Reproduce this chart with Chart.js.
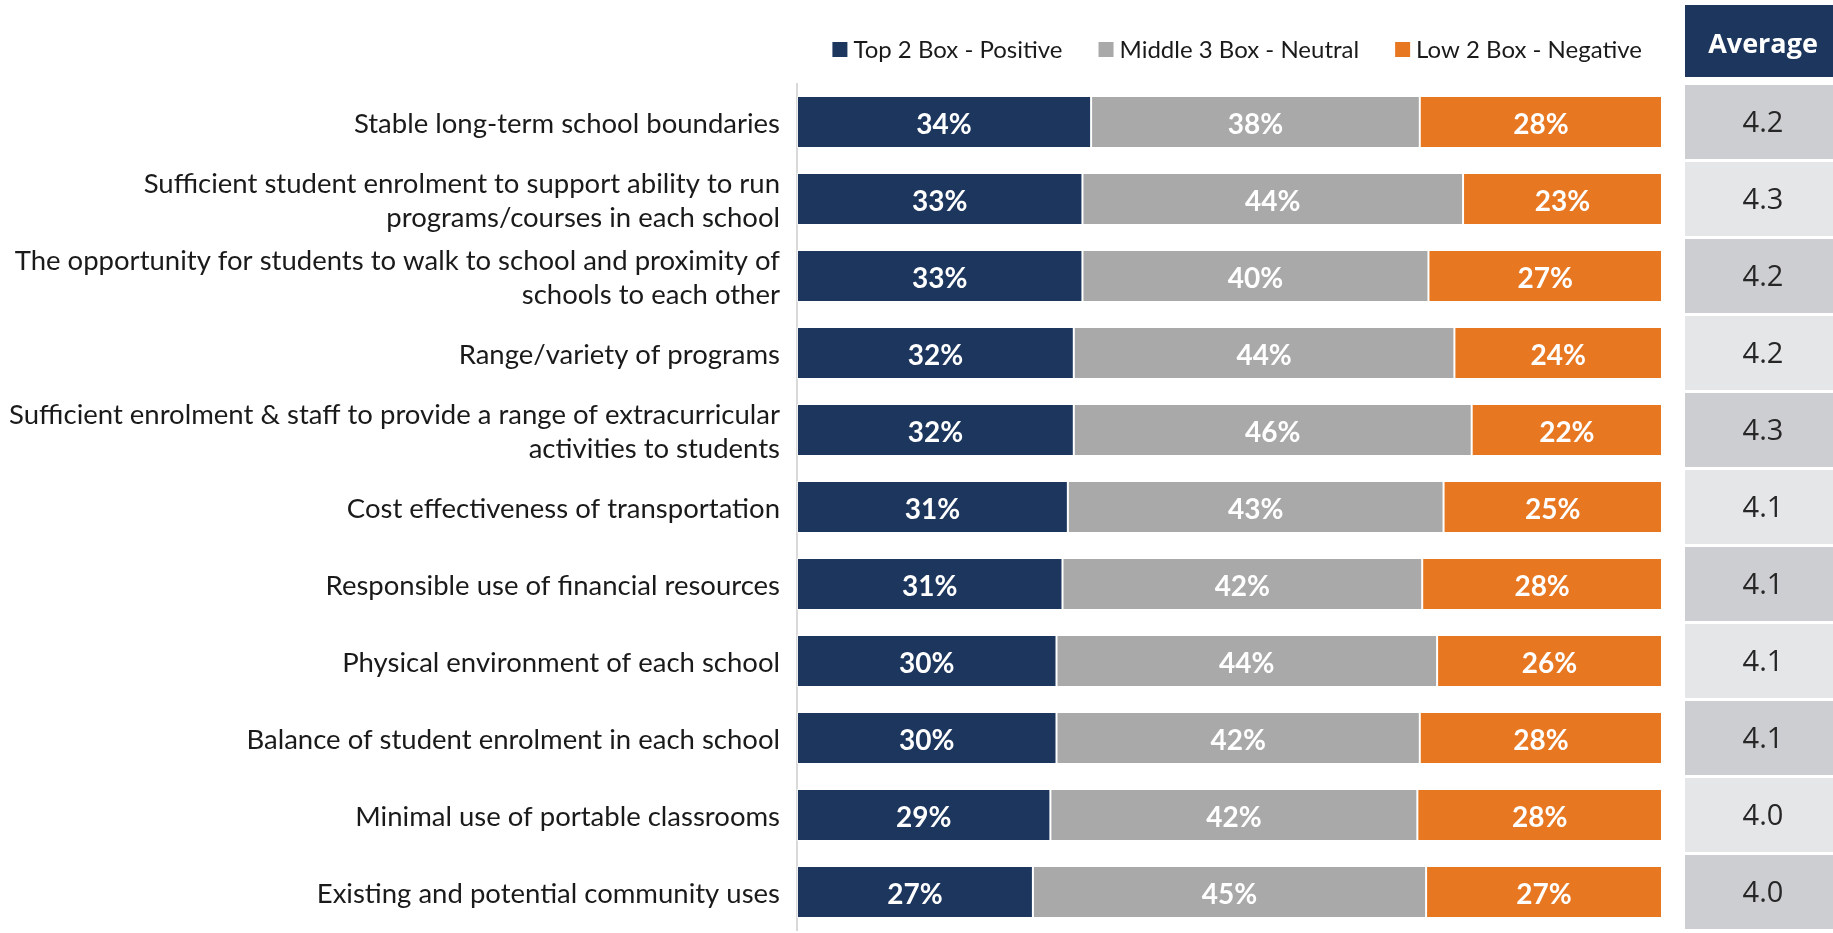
<!DOCTYPE html>
<html>
<head>
<meta charset="utf-8">
<title>School priorities</title>
<script src="https://cdn.jsdelivr.net/npm/chart.js@4"></script>
<style>
  html, body { margin: 0; padding: 0; background: #fff; }
  #wrap { position: relative; width: 1833px; height: 933px; }
</style>
</head>
<body>
<div id="wrap"><canvas id="scoreChart"></canvas></div>
<script>
// values (percent of respondents)
const categories = [
    'Stable long-term school boundaries',
    ['Sufficient student enrolment to support ability to run', 'programs/courses in each school'],
    ['The opportunity for students to walk to school and proximity of', 'schools to each other'],
    'Range/variety of programs',
    ['Sufficient enrolment & staff to provide a range of extracurricular', 'activities to students'],
    'Cost effectiveness of transportation',
    'Responsible use of financial resources',
    'Physical environment of each school',
    'Balance of student enrolment in each school',
    'Minimal use of portable classrooms',
    'Existing and potential community uses'
];
const seriesNames = ['Top 2 Box - Positive', 'Middle 3 Box - Neutral', 'Low 2 Box - Negative'];
const positive = [34, 33, 33, 32, 32, 31, 31, 30, 30, 29, 27];
const neutral  = [38, 44, 40, 44, 46, 43, 42, 44, 42, 42, 45];
const negative = [28, 23, 27, 24, 22, 25, 28, 26, 28, 28, 27];
const averages = [4.2, 4.3, 4.2, 4.2, 4.3, 4.1, 4.1, 4.1, 4.1, 4.0, 4.0];

const colors = ['#1c365e', '#a9a9a9', '#e87722'];
const labelFont = "Lato, 'Open Sans', sans-serif";
const textColor = '#1a1a1a';

const raw = [positive, neutral, negative];
// rounded shares don't always add up to 100, bars are drawn as shares of the row
const rowTotals = categories.map((c, i) => positive[i] + neutral[i] + negative[i]);

// white percentage inside each segment
const barLabels = {
    id: 'barLabels',
    afterDatasetsDraw(chart) {
        const ctx = chart.ctx;
        ctx.save();
        ctx.font = 'bold 28px ' + labelFont;
        ctx.fillStyle = '#ffffff';
        ctx.textAlign = 'center';
        ctx.textBaseline = 'middle';
        chart.data.datasets.forEach((ds, d) => {
            chart.getDatasetMeta(d).data.forEach((bar, i) => {
                ctx.fillText(raw[d][i] + '%', (bar.x + bar.base) / 2, bar.y + 3);
            });
        });
        ctx.restore();
    }
};

// legend above the bars, right aligned
const topLegend = {
    id: 'topLegend',
    afterDraw(chart) {
        const ctx = chart.ctx;
        const y = 50;
        ctx.save();
        ctx.font = '24px ' + labelFont;
        ctx.textBaseline = 'middle';
        let x = chart.chartArea.right - 20;
        for (let d = seriesNames.length - 1; d >= 0; d--) {
            x -= ctx.measureText(seriesNames[d]).width;
            ctx.fillStyle = textColor;
            ctx.fillText(seriesNames[d], x, y);
            x -= 6 + 15;
            ctx.fillStyle = colors[d];
            ctx.fillRect(x, y - 8, 15, 15);
            x -= 36;
        }
        ctx.restore();
    }
};

// "Average" column on the right, one cell per category row
const averageColumn = {
    id: 'averageColumn',
    afterDraw(chart) {
        const ctx = chart.ctx;
        const yScale = chart.scales.y;
        const left = chart.chartArea.right + 23;
        const right = chart.width;
        const mid = (left + right) / 2;
        const step = (yScale.bottom - yScale.top) / categories.length;

        ctx.save();
        ctx.fillStyle = '#1c365e';
        ctx.fillRect(left, 5, right - left, 72);
        ctx.fillStyle = '#ffffff';
        ctx.font = "bold 27px 'Open Sans'";
        ctx.textAlign = 'center';
        ctx.textBaseline = 'middle';
        ctx.fillText('Average', mid + 4, 45);

        averages.forEach((v, i) => {
            const yc = yScale.getPixelForValue(i);
            ctx.fillStyle = i % 2 ? '#e5e6e8' : '#cdced1';
            ctx.fillRect(left, yc - step / 2 + 1.5, right - left, step - 3);
            ctx.fillStyle = '#262626';
            ctx.font = "29px 'Open Sans'";
            ctx.fillText(v.toFixed(1), mid + 4, yc + 2);
        });
        ctx.restore();
    }
};

new Chart(document.getElementById('scoreChart'), {
    type: 'bar',
    data: {
        labels: categories,
        datasets: seriesNames.map((name, d) => ({
            label: name,
            data: raw[d].map((v, i) => v / rowTotals[i] * 100),
            backgroundColor: colors[d],
            borderColor: 'rgba(255,255,255,0.55)',
            borderWidth: 1,
            borderSkipped: false,
            barPercentage: 0.675,
            categoryPercentage: 1
        }))
    },
    options: {
        indexAxis: 'y',
        responsive: true,
        maintainAspectRatio: false,
        animation: false,
        layout: { padding: { top: 83.5, right: 171, bottom: 2.5, left: 0 } },
        plugins: {
            legend: { display: false },
            tooltip: { enabled: false }
        },
        scales: {
            x: { stacked: true, min: 0, max: 100, display: false },
            y: {
                stacked: true,
                grid: { display: false, drawTicks: false },
                border: { display: true, color: '#d9d9d9', width: 2 },
                ticks: {
                    autoSkip: false,
                    color: textColor,
                    padding: 17,
                    labelOffset: 2,
                    font: { family: labelFont, size: 27.5, lineHeight: 1.236 }
                },
                afterFit(scale) {
                    scale.width = 797;
                    // labels must not shrink the bar area at top/bottom
                    scale.paddingTop = 0;
                    scale.paddingBottom = 0;
                }
            }
        }
    },
    plugins: [barLabels, topLegend, averageColumn]
});
</script>
</body>
</html>
